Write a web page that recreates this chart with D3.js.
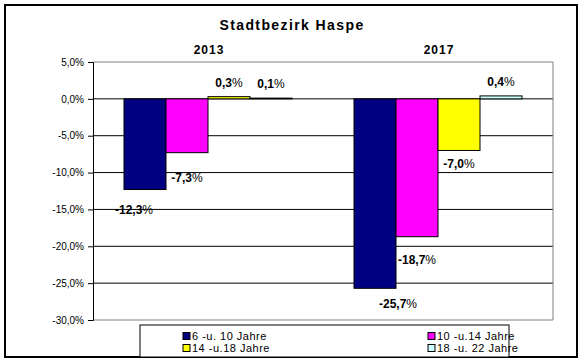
<!DOCTYPE html>
<html>
<head>
<meta charset="utf-8">
<script src="https://cdn.jsdelivr.net/npm/d3@7"></script>
<style>
  body { margin: 0; background: #fff; }
  svg { font-family: "Liberation Sans", Arial, sans-serif; }
</style>
</head>
<body>
<svg id="chart" width="587" height="364"></svg>
<script>
const years = ['2013', '2017'];
const groups = ['6 -u. 10 Jahre', '10 -u.14 Jahre', '14 -u.18 Jahre', '18 -u. 22 Jahre'];
const vals2013 = [-12.3, -7.3, 0.3, 0.1];
const vals2017 = [-25.7, -18.7, -7.0, 0.4];
const yTicks = [5, 0, -5, -10, -15, -20, -25, -30];

const colors = ['#000080', '#ff00ff', '#ffff00', '#ccffff'];
// manual nudges of the value labels, [dx, dy], like in the original
const labelShift = [
  [[-11, 20], [0, 25], [0, -14], [0, -14]],
  [[23, 16], [0, 23], [0, 14], [0, -14]]
];

const svg = d3.select('#chart');
const fmt = (v) => v.toFixed(1).replace('.', ',');

svg.append('rect')
  .attr('x', 5).attr('y', 5)
  .attr('width', 572).attr('height', 352)
  .attr('fill', '#fff').attr('stroke', '#000').attr('stroke-width', 2);

const pLeft = 93, pRight = 553, pTop = 62, pBottom = 320;

const x0 = d3.scaleBand().domain(years).range([pLeft, pRight]);
const x1 = d3.scaleBand().domain(d3.range(4)).range([31, x0.bandwidth() - 31]);
const y = d3.scaleLinear().domain([5, -30]).range([pTop, pBottom]);

// grid
svg.append('g')
  .selectAll('line')
  .data(yTicks.filter((t) => t !== 5 && t !== -30))
  .enter().append('line')
  .attr('x1', pLeft).attr('x2', pRight)
  .attr('y1', (d) => y(d)).attr('y2', (d) => y(d))
  .attr('stroke', '#000');

// plot border (gray)
svg.append('path')
  .attr('d', `M${pLeft},${y(5)}H${pRight}V${y(-30)}H${pLeft}`)
  .attr('fill', 'none').attr('stroke', '#808080');

const yAxis = svg.append('g')
  .attr('transform', `translate(${pLeft},0)`)
  .call(d3.axisLeft(y).tickValues(yTicks).tickSize(5).tickPadding(4).tickFormat((d) => fmt(d) + '%'));
yAxis.select('.domain').attr('stroke', '#000');
yAxis.selectAll('text').attr('font-size', 10).attr('fill', '#000')
  .attr('font-family', '"Liberation Sans", Arial, sans-serif');

// title + year labels
svg.append('text')
  .attr('x', 292).attr('y', 30)
  .attr('text-anchor', 'middle')
  .attr('font-size', 14).attr('font-weight', 'bold')
  .attr('letter-spacing', 1.4)
  .text('Stadtbezirk Haspe');

svg.selectAll('.year')
  .data(years)
  .enter().append('text')
  .attr('class', 'year')
  .attr('x', (d) => x0(d) + x0.bandwidth() / 2 + 1)
  .attr('y', 54)
  .attr('text-anchor', 'middle')
  .attr('font-size', 12).attr('font-weight', 'bold')
  .attr('letter-spacing', 1)
  .text((d) => d);

const data = [vals2013, vals2017];

const yearG = svg.selectAll('.yg')
  .data(data)
  .enter().append('g')
  .attr('transform', (d, i) => `translate(${x0(years[i])},0)`);

yearG.selectAll('rect')
  .data((d) => d)
  .enter().append('rect')
  .attr('x', (d, i) => x1(i))
  .attr('y', (d) => y(Math.max(0, d)))
  .attr('width', x1.bandwidth())
  .attr('height', (d) => Math.abs(y(d) - y(0)))
  .attr('fill', (d, i) => colors[i])
  .attr('stroke', '#000');

yearG.each(function (d, yi) {
  const lbl = d3.select(this).selectAll('.lbl')
    .data(d)
    .enter().append('text')
    .attr('class', 'lbl')
    .attr('x', (v, i) => x1(i) + x1.bandwidth() / 2 + labelShift[yi][i][0])
    .attr('y', (v, i) => y(v) + labelShift[yi][i][1] + 4)
    .attr('text-anchor', 'middle')
    .attr('font-size', 12);
  lbl.append('tspan').attr('font-weight', 'bold').text((v) => fmt(v));
  lbl.append('tspan').text('%');
});

// legend
const legend = svg.append('g');
legend.append('rect')
  .attr('x', 140).attr('y', 325)
  .attr('width', 369).attr('height', 32)
  .attr('fill', '#fff').attr('stroke', '#000');

const legItems = legend.selectAll('.li')
  .data(groups)
  .enter().append('g')
  .attr('transform', (d, i) => `translate(${i % 2 ? 428 : 183},${i < 2 ? 336 : 348})`);

legItems.append('rect')
  .attr('x', 0).attr('y', -3.5)
  .attr('width', 7).attr('height', 7)
  .attr('fill', (d, i) => colors[i])
  .attr('stroke', '#000');

legItems.append('text')
  .attr('x', 9).attr('y', 4)
  .attr('font-size', 11)
  .attr('letter-spacing', 0.5)
  .text((d) => d);
</script>
</body>
</html>
